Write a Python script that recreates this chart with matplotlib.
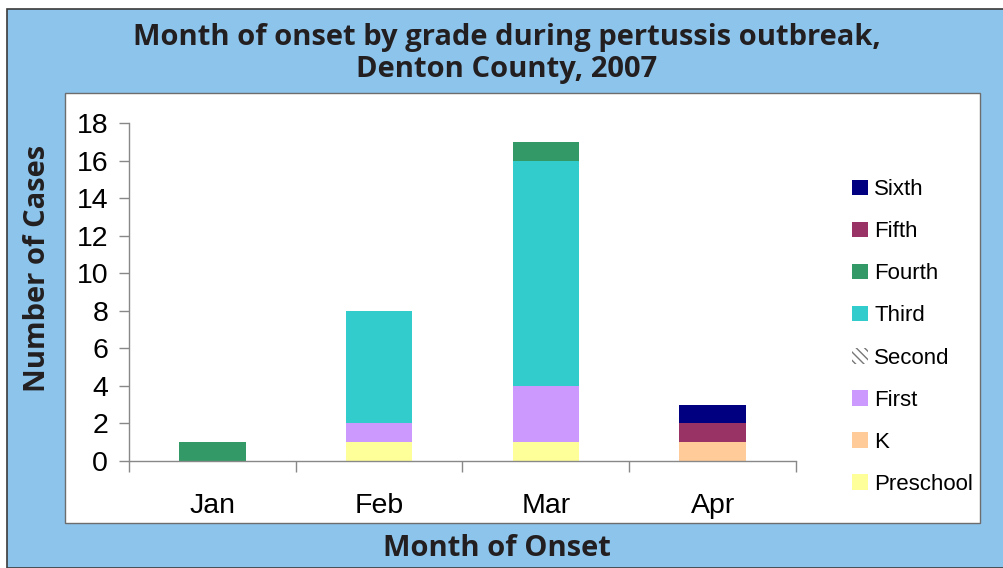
import matplotlib.pyplot as plt
import matplotlib.patches as mpatches
import numpy as np

months = ["Jan", "Feb", "Mar", "Apr"]
grades = ["Preschool", "K", "First", "Second", "Third", "Fourth", "Fifth", "Sixth"]
preschool = [0, 1, 1, 0]
kinder = [0, 0, 0, 1]
first = [0, 1, 3, 0]
second = [0, 0, 0, 0]
third = [0, 6, 12, 0]
fourth = [1, 0, 1, 0]
fifth = [0, 0, 0, 1]
sixth = [0, 0, 0, 1]
y_ticks = [0, 2, 4, 6, 8, 10, 12, 14, 16, 18]

series = [preschool, kinder, first, second, third, fourth, fifth, sixth]
colors = ["#ffff99", "#ffcc99", "#cc99ff", "#ffffff", "#33cccc", "#339966", "#993366", "#000080"]
hatches = [None, None, None, "\\\\\\\\", None, None, None, None]

ink = "#231f20"
blue = "#8cc4ec"
plt.rcParams["hatch.color"] = "#777777"
plt.rcParams["hatch.linewidth"] = 1.0

W, H = 1004, 568
fig = plt.figure(figsize=(W / 100, H / 100), dpi=100, facecolor="white")


def fx(px):
    return px / W


def fy(py):
    return 1 - py / H


# blue panel and white chart area, kept behind the axes
fig.patches.append(mpatches.Rectangle((fx(7), 0), 1, fy(9), transform=fig.transFigure,
                                      facecolor=blue, edgecolor="#3a3a3a", linewidth=1.2,
                                      zorder=-3))
fig.patches.append(mpatches.Rectangle((fx(65), fy(523)), fx(980) - fx(65), fy(93) - fy(523),
                                      transform=fig.transFigure, facecolor="white",
                                      edgecolor="#6d6d6d", linewidth=1.0, zorder=-2))
# caption above the panel, cut off by the page edge as in the source
fig.text(fx(10), fy(-12), "Figure 2", fontsize=16, fontweight="bold", color=ink,
         family="Open Sans", va="center")

ax = fig.add_axes([fx(129), fy(461), fx(796) - fx(129), fy(123) - fy(461)])
ax.set_facecolor("none")
ax.set_zorder(2)

x = np.arange(len(months))
bottom = np.zeros(len(months))
for vals, col, hatch in zip(series, colors, hatches):
    vals = np.array(vals, dtype=float)
    ax.bar(x, vals, width=0.4, bottom=bottom, color=col, hatch=hatch, linewidth=0)
    bottom += vals

ax.set_xlim(-0.5, 3.5)
ax.set_ylim(0, 18)
ax.set_yticks(y_ticks)
ax.set_xticks([-0.5, 0.5, 1.5, 2.5, 3.5])
ax.set_xticklabels([])
ax.set_xticks(x, minor=True)
ax.set_xticklabels(months, minor=True)
ax.tick_params(axis="x", which="major", length=8, color="#888888", width=1)
ax.tick_params(axis="x", which="minor", length=0, pad=23, labelsize=20.5)
ax.tick_params(axis="y", length=7, color="#888888", width=1, labelsize=20.5, pad=8)
for lbl in ax.get_xticklabels(minor=True) + ax.get_yticklabels():
    lbl.set_family("Liberation Sans")
for side in ["top", "right"]:
    ax.spines[side].set_visible(False)
for side in ["left", "bottom"]:
    ax.spines[side].set_color("#888888")
    ax.spines[side].set_linewidth(1)

bold = dict(fontsize=21, fontweight="bold", color=ink, family="Open Sans",
            ha="center", va="center")
fig.text(fx(507), fy(37), "Month of onset by grade during pertussis outbreak,", **bold)
fig.text(fx(507), fy(70), "Denton County, 2007", **bold)
fig.text(fx(38), fy(268), "Number of Cases", rotation=90, **bold)
fig.text(fx(497), fy(548), "Month of Onset", **bold)

handles = []
for name, col, hatch in zip(grades, colors, hatches):
    handles.append(mpatches.Patch(facecolor=col, hatch=hatch, linewidth=0, label=name))
leg = fig.legend(handles[::-1], grades[::-1], loc="center left",
                 bbox_to_anchor=(fx(852), fy(337)), frameon=False, borderpad=0,
                 borderaxespad=0, handlelength=0.7, handleheight=0.7, handletextpad=0.3,
                 labelspacing=0.95, prop={"family": "Liberation Sans", "size": 16})

fig.savefig("out.png", dpi=100, facecolor=fig.get_facecolor())
